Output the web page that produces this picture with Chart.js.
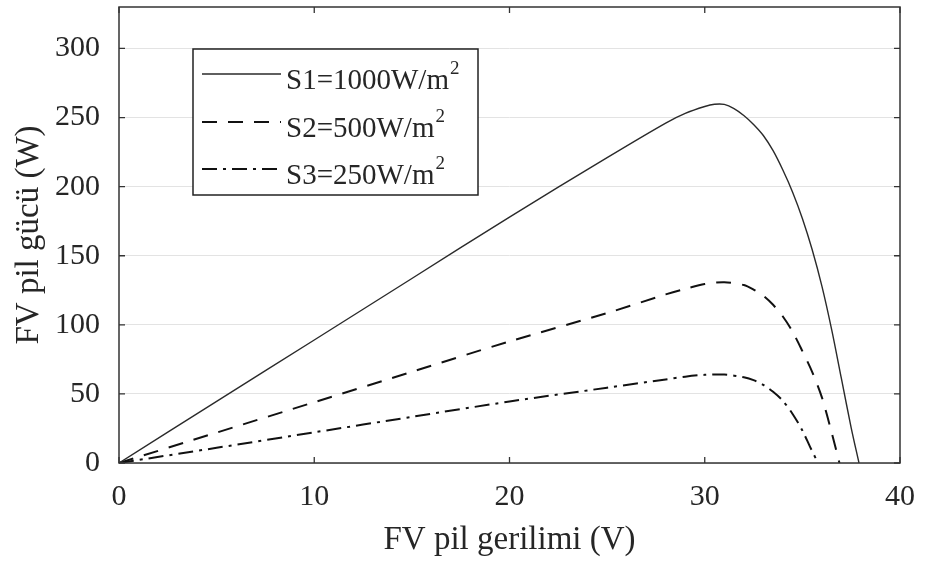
<!DOCTYPE html>
<html>
<head>
<meta charset="utf-8">
<script src="https://cdn.jsdelivr.net/npm/chart.js@4.4.1/dist/chart.umd.min.js"></script>
<style>
html,body{margin:0;padding:0;background:#fff;}
#wrap{width:925px;height:564px;position:relative;}
</style>
</head>
<body>
<div id="wrap"><canvas id="c" width="925" height="564"></canvas></div>
<script>
// ---- data ----
const seriesLabels = ['S1=1000W/m', 'S2=500W/m', 'S3=250W/m'];
const labelSup = '2';
const voltage1 = [0, 5, 10, 15, 20, 25, 28, 29, 30, 30.5, 31, 31.5, 32, 32.5, 33, 33.5, 34, 34.5, 35, 35.5, 36, 36.5, 37, 37.5, 37.9];
const power1   = [0, 44.6, 89, 133.5, 178, 221, 246, 253, 258, 259.6, 259.5, 256.5, 251.5, 245, 237, 226, 212, 196, 177, 154.5, 128, 96.5, 61, 25.5, 0];
const voltage2 = [0, 5, 10, 15, 20, 25, 28, 29, 30, 31, 32, 32.5, 33, 33.5, 34, 34.5, 35, 35.5, 36, 36.5, 36.9];
const power2   = [0, 22, 44, 66, 88, 108.5, 122, 126, 129.5, 130.8, 128.8, 125.5, 121, 114.5, 106, 95, 81, 66, 47.5, 22, 0];
const voltage3 = [0, 5, 10, 15, 20, 25, 28, 29, 30, 31, 32, 32.5, 33, 33.5, 34, 34.5, 35, 35.4, 35.8];
const power3   = [0, 11, 22.2, 33.4, 44.5, 54.5, 60.5, 62.5, 63.8, 64, 62, 60, 56.5, 51.5, 45, 35.5, 23.5, 11.5, 0];
const xTicks = [0, 10, 20, 30, 40];
const yTicks = [0, 50, 100, 150, 200, 250, 300];
const xTitle = 'FV pil gerilimi (V)';
const yTitle = 'FV pil gücü (W)';

const toPts = (xs, ys) => xs.map((v, i) => ({x: v, y: ys[i]}));
const FONT = "'Liberation Serif', 'Times New Roman', serif";
const TXT = '#262626';
const dashes = [[], [15, 11], [15, 6, 3, 6]];
const colors = ['#2a2a2a', '#111111', '#111111'];
const widths = [1.4, 2, 2];

const frame = {
  id: 'frame',
  afterDatasetsDraw(chart) {
    const {ctx, chartArea: a, scales} = chart;
    ctx.save();
    ctx.strokeStyle = '#333';
    ctx.lineWidth = 1.5;
    ctx.setLineDash([]);
    ctx.strokeRect(a.left, a.top, a.right - a.left, a.bottom - a.top);
    ctx.lineWidth = 1.3;
    const tl = 6;
    xTicks.forEach(v => {
      const px = scales.x.getPixelForValue(v);
      ctx.beginPath();
      ctx.moveTo(px, a.bottom); ctx.lineTo(px, a.bottom - tl);
      ctx.moveTo(px, a.top); ctx.lineTo(px, a.top + tl);
      ctx.stroke();
    });
    yTicks.forEach(v => {
      const py = scales.y.getPixelForValue(v);
      ctx.beginPath();
      ctx.moveTo(a.left, py); ctx.lineTo(a.left + tl, py);
      ctx.moveTo(a.right, py); ctx.lineTo(a.right - tl, py);
      ctx.stroke();
    });
    // legend
    const bx = 193, by = 49, bw = 285, bh = 146;
    ctx.fillStyle = '#fff';
    ctx.fillRect(bx, by, bw, bh);
    ctx.strokeStyle = '#222';
    ctx.lineWidth = 1.5;
    ctx.strokeRect(bx, by, bw, bh);
    const rowY = [74, 122, 169];
    seriesLabels.forEach((lab, i) => {
      const y = rowY[i];
      ctx.beginPath();
      ctx.setLineDash(dashes[i]);
      ctx.strokeStyle = colors[i];
      ctx.lineWidth = widths[i];
      ctx.moveTo(202, y); ctx.lineTo(281, y);
      ctx.stroke();
      ctx.setLineDash([]);
      ctx.fillStyle = TXT;
      ctx.textBaseline = 'middle';
      ctx.textAlign = 'left';
      ctx.font = '29px ' + FONT;
      ctx.fillText(lab, 286, y + 7);
      const w = ctx.measureText(lab).width;
      ctx.font = '19px ' + FONT;
      ctx.fillText(labelSup, 286 + w + 1, y - 5);
    });
    ctx.restore();
  }
};

new Chart(document.getElementById('c'), {
  type: 'line',
  data: {
    datasets: [
      {label: seriesLabels[0], data: toPts(voltage1, power1)},
      {label: seriesLabels[1], data: toPts(voltage2, power2)},
      {label: seriesLabels[2], data: toPts(voltage3, power3)}
    ].map((d, i) => Object.assign(d, {
      borderColor: colors[i], borderWidth: widths[i], borderDash: dashes[i],
      pointRadius: 0, fill: false, tension: 0.3
    }))
  },
  options: {
    responsive: false,
    animation: false,
    devicePixelRatio: 1,
    layout: {padding: {top: 7, right: 25, left: 0, bottom: 0}},
    plugins: {legend: {display: false}, tooltip: {enabled: false}},
    scales: {
      x: {
        type: 'linear', min: 0, max: 40,
        afterFit: s => { s.height = 101; s.paddingLeft = 0; s.paddingRight = 0; s.paddingTop = 0; s.paddingBottom = 0; },
        grid: {display: false, drawTicks: false},
        border: {display: false},
        ticks: {stepSize: 10, padding: 16, color: TXT, font: {family: FONT, size: 30}, maxRotation: 0},
        afterBuildTicks: s => { s.ticks = xTicks.map(v => ({value: v})); },
        title: {display: true, text: xTitle, color: TXT, font: {family: FONT, size: 33}, padding: {top: 0, bottom: 4}}
      },
      y: {
        type: 'linear', min: 0, max: 330,
        afterFit: s => { s.width = 119; s.paddingLeft = 0; s.paddingRight = 0; s.paddingTop = 0; s.paddingBottom = 0; },
        grid: {color: '#e3e3e3', lineWidth: 1, drawTicks: false},
        border: {display: false},
        ticks: {stepSize: 50, includeBounds: false, padding: 19, color: TXT, font: {family: FONT, size: 30}},
        afterBuildTicks: s => { s.ticks = yTicks.map(v => ({value: v})); },
        title: {display: true, text: yTitle, color: TXT, font: {family: FONT, size: 33}, padding: {top: 10, bottom: 0}}
      }
    }
  },
  plugins: [frame]
});
</script>
</body>
</html>
